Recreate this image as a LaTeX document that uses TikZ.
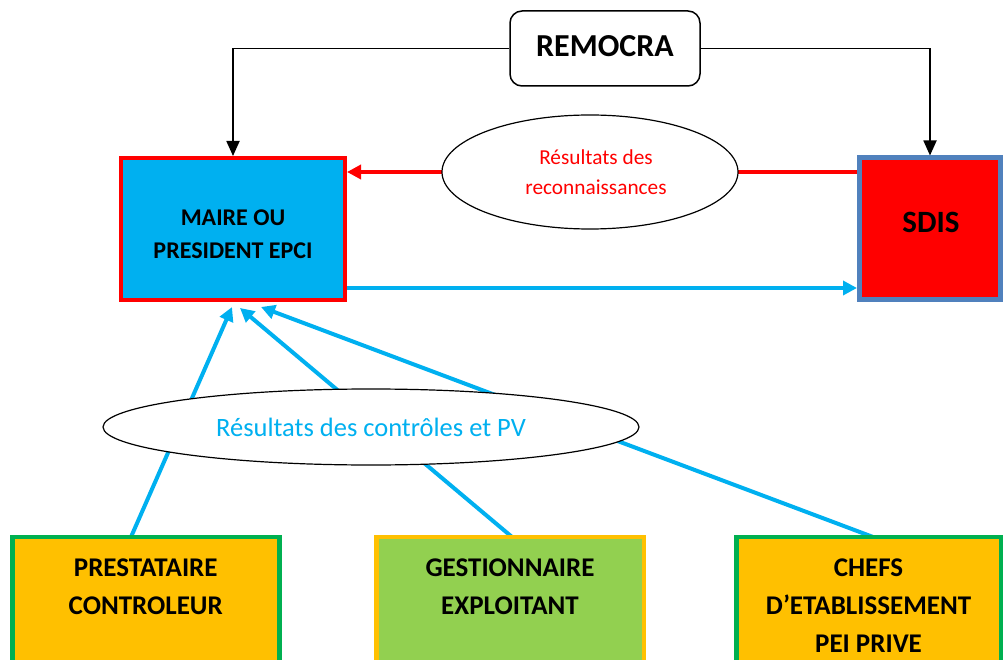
\documentclass[tikz,border=0pt]{standalone}
\usepackage{fontspec}
\setmainfont{Carlito}
\usetikzlibrary{arrows.meta,shapes.geometric,calc}
\definecolor{cblue}{HTML}{00B0F0}
\definecolor{cred}{HTML}{FF0000}
\definecolor{corange}{HTML}{FFC000}
\definecolor{cgreen}{HTML}{92D050}
\definecolor{cdgreen}{HTML}{00B050}
\definecolor{csteel}{HTML}{5081BD}
\pgfdeclarelayer{bg}
\pgfsetlayers{bg,main}
\tikzset{
  boxtxt/.style={font=\fontsize{24}{33}\selectfont\bfseries, align=center, text=black},
  bottxt/.style={font=\fontsize{27}{38}\selectfont\bfseries, align=center, text=black},
  botbox/.style={draw, line width=4.5pt, minimum height=162.75pt, inner sep=0pt},
  bubble/.style={ellipse, draw=black, line width=1.2pt, fill=white, inner sep=0pt, align=center},
  blkarrow/.style={draw=black, line width=1.8pt, -{Triangle[length=15pt,width=13pt]}},
  bluearrow/.style={draw=cblue, line width=4pt, -{Triangle[length=14pt,width=14pt]}},
  redarrow/.style={draw=cred, line width=4pt, -{Triangle[length=14pt,width=14pt]}},
}
\begin{document}
\begin{tikzpicture}[x=1pt,y=-1pt]
\useasboundingbox (0,0) rectangle (1003,660);
\clip (0,0) rectangle (1003,660);
% main boxes
\node[draw=black, line width=1.5pt, rounded corners=12pt, minimum width=190pt, minimum height=75pt, inner sep=0pt] (remocra) at (605,48.5) {};
\node[font=\fontsize{32}{38}\selectfont\bfseries] (remocratxt) at (605,46) {REMOCRA};
\node[draw=cred, fill=cblue, line width=4pt, minimum width=224pt, minimum height=142pt, inner sep=0pt] (maire) at (233,229) {};
\node[boxtxt] (mairetxt) at (233,234) {MAIRE OU\\PRESIDENT EPCI};
\node[draw=csteel, fill=cred, line width=5pt, minimum width=141pt, minimum height=141.5pt, inner sep=0pt] (sdis) at (930,228.75) {};
\node[font=\fontsize{31}{36}\selectfont\bfseries] (sdistxt) at (931,222) {SDIS};
% bottom boxes
\node[botbox, draw=cdgreen, fill=corange, minimum width=267pt] (prest) at (145.75,618.6) {};
\node[botbox, draw=corange, fill=cgreen, minimum width=267.5pt] (gest) at (510,618.6) {};
\node[botbox, draw=cdgreen, fill=corange, minimum width=264.5pt] (chefs) at (868.5,618.6) {};
\node[bottxt] (presttxt) at (145.75,587) {PRESTATAIRE\\CONTROLEUR};
\node[bottxt] (gesttxt) at (510,587) {GESTIONNAIRE\\EXPLOITANT};
\node[bottxt] (chefstxt) at (868.5,606) {CHEFS\\D’ETABLISSEMENT\\PEI PRIVE};
% ellipses
\node[bubble, minimum width=296pt, minimum height=114pt, text=cred,
      font=\fontsize{21}{30}\selectfont] (reco) at (590,172) {};
\node[text=cred, align=center, font=\fontsize{21.3}{30}\selectfont] (recotxt) at (596,172) {Résultats des\\reconnaissances};
\node[bubble, minimum width=536pt, minimum height=76pt, text=cblue,
      font=\fontsize{26.5}{30}\selectfont] (ctrl) at (371,427) {Résultats des contrôles et PV};
\coordinate (by) at (0,288);
% connectors
\begin{pgfonlayer}{bg}
\draw[blkarrow] (remocra.west) -| (maire.north);
\draw[blkarrow] (remocra.east) -| (sdis.north);
\draw[redarrow] (sdis.west |- reco) -- (maire.east |- reco);
\draw[bluearrow] (maire.east |- by) -- (sdis.west |- by);
\draw[bluearrow] ($(prest.north)+(-14.75,2)$) -- ($(maire.south)+(-1,5)$);
\draw[bluearrow] ($(gest.north)+(2,2)$) -- ($(maire.south)+(7,6)$);
\draw[bluearrow] ($(chefs.north)+(4.5,2)$) -- ($(maire.south)+(28,5)$);
\end{pgfonlayer}
\end{tikzpicture}
\end{document}
